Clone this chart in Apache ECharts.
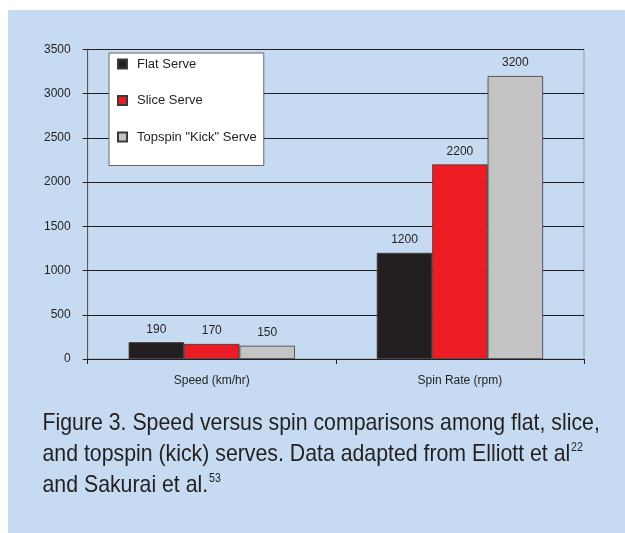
<!DOCTYPE html>
<html><head><meta charset="utf-8">
<script src="https://cdn.jsdelivr.net/npm/echarts@6/dist/echarts.min.js"></script>
<style>html,body{margin:0;padding:0;background:#fff}#c{width:625px;height:533px}</style>
</head><body><div id="c"></div>
<script>
const categories = ['Speed (km/hr)', 'Spin Rate (rpm)'];
const flatServe = [190, 1200];
const sliceServe = [170, 2200];
const kickServe = [150, 3200];
const seriesNames = ['Flat Serve', 'Slice Serve', 'Topspin "Kick" Serve'];
const yTicks = [0, 500, 1000, 1500, 2000, 2500, 3000, 3500];
const captionLines = [
  'Figure 3. Speed versus spin comparisons among flat, slice,',
  'and topspin (kick) serves. Data adapted from Elliott et al{s|22}',
  'and Sakurai et al.{s|53}'
];

const ink = '#231f20';
const font = 'Liberation Sans, Arial, sans-serif';
const chart = echarts.init(document.getElementById('c'), null, {renderer: 'canvas'});
function bar(name, data, color) {
  return {
    name, type: 'bar', data, barGap: '0%', barCategoryGap: '33%',
    itemStyle: {color, borderColor: '#3a3a3a', borderWidth: 0.8},
    label: {show: true, position: 'top', distance: 7, color: ink, fontSize: 12, fontFamily: font},
    emphasis: {disabled: true}
  };
}
const captionTexts = captionLines.map((t, i) => ({
  type: 'text', x: 0, y: i * 31,
  style: {
    text: t, fill: ink, fontSize: 24, fontFamily: font, verticalAlign: 'middle', align: 'left',
    rich: {s: {fontSize: 12, fontFamily: font, fill: ink, padding: [0, 0, 12, 1]}}
  }
}));
chart.setOption({
  animation: false,
  backgroundColor: '#fff',
  graphic: [
    {type: 'rect', shape: {x: 8, y: 10, width: 617, height: 523}, style: {fill: '#c6dbf1'}, z: -10},
    {type: 'group', x: 42.5, y: 423, scaleX: 0.887, children: captionTexts}
  ],
  legend: {
    orient: 'vertical', left: 109, top: 53,
    data: seriesNames,
    backgroundColor: '#fff', borderColor: '#666', borderWidth: 1,
    padding: [4.5, 7, 22, 8],
    itemWidth: 9, itemHeight: 9, itemGap: 23.5, icon: 'rect',
    textStyle: {color: ink, fontSize: 13, fontFamily: font, padding: [0, 0, 0, 5]},
    selectedMode: false
  },
  grid: {left: 87.7, top: 49.5, right: 41, bottom: 174, show: true, borderColor: '#999', borderWidth: 1, backgroundColor: 'transparent'},
  xAxis: {
    type: 'category', data: categories,
    axisLine: {lineStyle: {color: ink, width: 1}},
    axisTick: {show: true, length: 5, lineStyle: {color: ink}},
    axisLabel: {color: ink, fontSize: 12, fontFamily: font, margin: 16}
  },
  yAxis: {
    type: 'value', min: yTicks[0], max: yTicks[yTicks.length - 1], interval: 500,
    axisLine: {show: true, lineStyle: {color: '#555', width: 1}},
    axisTick: {show: true, length: 5, lineStyle: {color: ink}},
    axisLabel: {color: ink, fontSize: 12, fontFamily: font, margin: 17, formatter: v => String(v)},
    splitLine: {lineStyle: {color: ink, width: 1}}
  },
  series: [bar(seriesNames[0], flatServe, ink), bar(seriesNames[1], sliceServe, '#ed1c24'), bar(seriesNames[2], kickServe, '#c4c4c4')]
});
</script></body></html>
